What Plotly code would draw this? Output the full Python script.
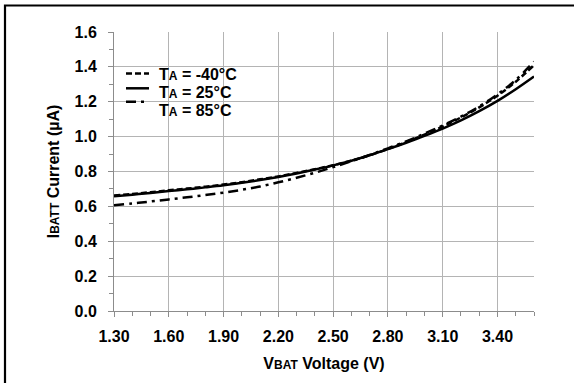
import plotly.graph_objects as go

# ---- data ----
vbat = [1.3, 1.4, 1.5, 1.6, 1.7, 1.8, 1.9, 2.0, 2.1, 2.2, 2.3, 2.4,
        2.5, 2.6, 2.7, 2.8, 2.9, 3.0, 3.1, 3.2, 3.3, 3.4, 3.5, 3.6]
i_m40 = [0.662, 0.671, 0.681, 0.692, 0.702, 0.713, 0.725, 0.739, 0.755, 0.772, 0.792, 0.813,
         0.836, 0.862, 0.893, 0.929, 0.969, 1.012, 1.058, 1.110, 1.168, 1.235, 1.315, 1.410]
i_25 = [0.658, 0.667, 0.677, 0.688, 0.698, 0.709, 0.721, 0.735, 0.751, 0.769, 0.789, 0.811,
        0.835, 0.862, 0.893, 0.928, 0.965, 1.004, 1.046, 1.093, 1.146, 1.205, 1.272, 1.345]
i_85 = [0.607, 0.617, 0.628, 0.640, 0.652, 0.665, 0.679, 0.695, 0.714, 0.738, 0.764, 0.793,
        0.825, 0.859, 0.895, 0.933, 0.973, 1.017, 1.064, 1.115, 1.173, 1.242, 1.325, 1.430]
series_names = ["T<span style='font-size:12px'>A</span> = -40°C",
                "T<span style='font-size:12px'>A</span> = 25°C",
                "T<span style='font-size:12px'>A</span> = 85°C"]
x_ticks = [1.30, 1.60, 1.90, 2.20, 2.50, 2.80, 3.10, 3.40]
x_ticklabels = ["1.30", "1.60", "1.90", "2.20", "2.50", "2.80", "3.10", "3.40"]
y_ticks = [0.0, 0.2, 0.4, 0.6, 0.8, 1.0, 1.2, 1.4, 1.6]
y_ticklabels = ["0.0", "0.2", "0.4", "0.6", "0.8", "1.0", "1.2", "1.4", "1.6"]

# ---- layout constants ----
W, H = 574, 383
ML, MR, MT, MB = 114, 40, 32, 72
PW, PH = W - ML - MR, H - MT - MB
FONT = "Liberation Sans, Arial, sans-serif"
dashes = ["6px,3px", "solid", "10px,5px,3px,5px"]
ys = [i_m40, i_25, i_85]

def px_x(p):
    return (p - ML) / PW

def px_y(p):
    return 1 - (p - MT) / PH

fig = go.Figure()
for name, y, d in zip(series_names, ys, dashes):
    fig.add_trace(go.Scatter(x=vbat, y=y, mode="lines", name=name,
                             line=dict(color="black", width=2.5, dash=d, shape="spline"),
                             showlegend=False))

shapes = []
annotations = []
# legend box (white, hides grid)
shapes.append(dict(type="rect", xref="paper", yref="paper",
                   x0=px_x(115), x1=px_x(242), y0=px_y(121), y1=px_y(68),
                   fillcolor="white", line=dict(width=0), layer="between"))
sample_y = [73.5, 88.3, 101.7]
text_y = [74, 92, 110.5]
for name, d, sy, ty in zip(series_names, dashes, sample_y, text_y):
    shapes.append(dict(type="line", xref="paper", yref="paper",
                       x0=px_x(126), x1=px_x(149), y0=px_y(sy), y1=px_y(sy),
                       line=dict(color="black", width=2.5, dash=d), layer="above"))
    annotations.append(dict(xref="paper", yref="paper", x=px_x(157), y=px_y(ty),
                            xanchor="left", yanchor="middle", showarrow=False,
                            text="<b>" + name + "</b>",
                            font=dict(family=FONT, size=16, color="black")))
# outer frame (extends beyond canvas on right/bottom)
shapes.append(dict(type="rect", xref="paper", yref="paper",
                   x0=px_x(5), x1=px_x(W + 80), y0=px_y(H + 80), y1=px_y(5.5),
                   fillcolor="rgba(0,0,0,0)", line=dict(color="black", width=2.2), layer="above"))

fig.update_layout(
    width=W, height=H,
    margin=dict(l=ML, r=MR, t=MT, b=MB, pad=0),
    paper_bgcolor="white", plot_bgcolor="white",
    font=dict(family=FONT, color="black"),
    shapes=shapes, annotations=annotations,
    showlegend=False,
)
fig.update_xaxes(
    range=[1.3, 3.6], tickvals=x_ticks, ticktext=x_ticklabels,
    showgrid=True, gridcolor="#b4b4b4", gridwidth=1,
    showline=True, linecolor="#8c8c8c", linewidth=1,
    ticks="outside", ticklen=5, tickcolor="#8c8c8c",
    minor=dict(dtick=0.1, tick0=1.3, ticks="outside", ticklen=4, tickcolor="#8c8c8c", showgrid=False),
    tickfont=dict(family=FONT, size=16, color="black", weight="bold"),
    ticklabelstandoff=6,
    zeroline=False,
    title=dict(text="<b>V<span style='font-size:12px'>BAT</span> Voltage (V)</b>",
               font=dict(family=FONT, size=16, color="black"), standoff=13),
)
fig.update_yaxes(
    range=[0, 1.6], tickvals=y_ticks, ticktext=y_ticklabels,
    showgrid=True, gridcolor="#b4b4b4", gridwidth=1,
    showline=True, linecolor="#8c8c8c", linewidth=1,
    ticks="outside", ticklen=5, tickcolor="#8c8c8c",
    minor=dict(dtick=0.1, tick0=0, ticks="outside", ticklen=4, tickcolor="#8c8c8c", showgrid=False),
    tickfont=dict(family=FONT, size=16, color="black", weight="bold"),
    ticklabelstandoff=8,
    zeroline=False,
    title=dict(text="<b>I<span style='font-size:12px'>BATT</span> Current (µA)</b>",
               font=dict(family=FONT, size=16, color="black"), standoff=10),
)
fig.write_html("out.html", config={"displayModeBar": False},
               post_script="document.body.style.margin='0';document.body.style.overflow='hidden';")
